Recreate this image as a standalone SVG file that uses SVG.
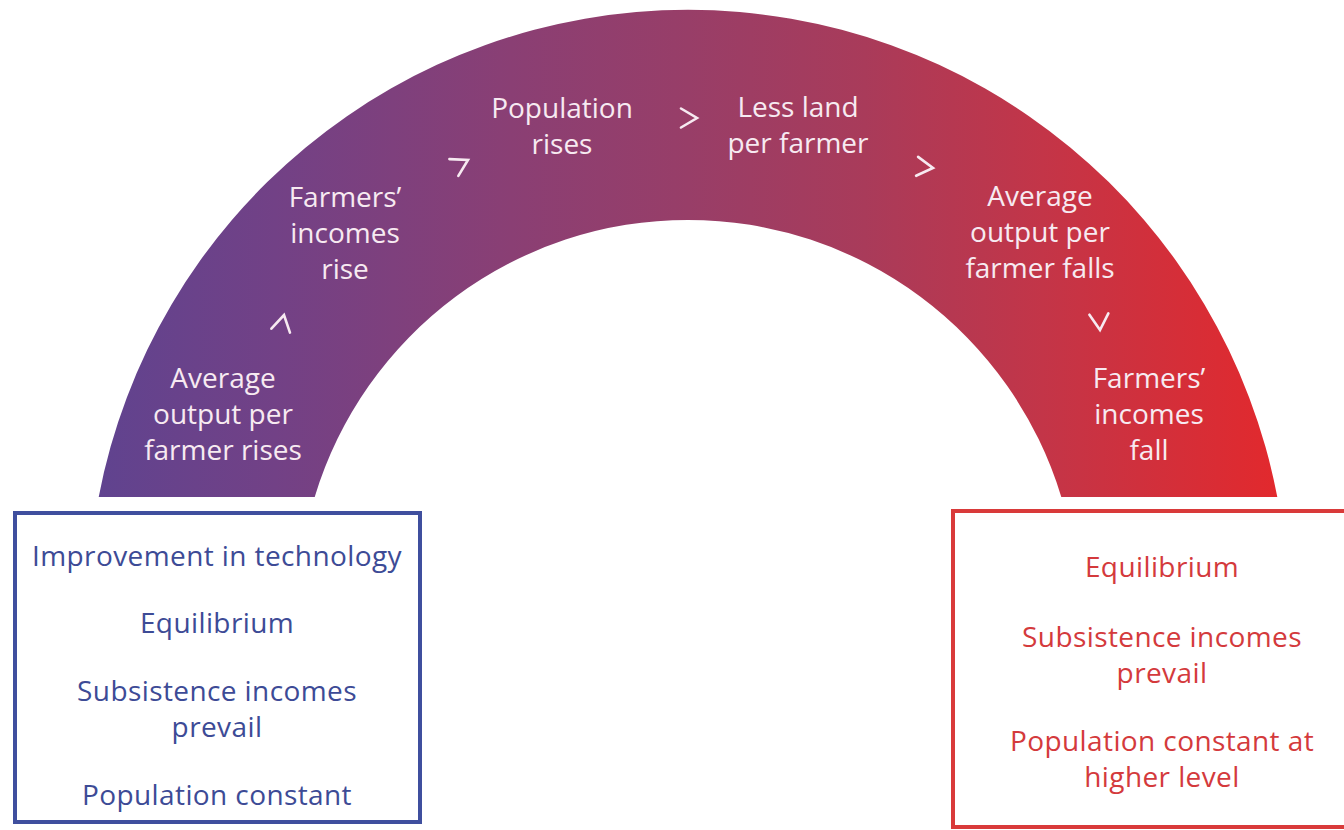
<svg xmlns="http://www.w3.org/2000/svg" width="1344" height="830" viewBox="0 0 1344 830">
  <defs>
    <linearGradient id="archGrad" gradientUnits="userSpaceOnUse" x1="98" y1="460" x2="1278" y2="460">
      <stop offset="0" stop-color="#60438f"/>
      <stop offset="0.15" stop-color="#724186"/>
      <stop offset="0.35" stop-color="#8a3f74"/>
      <stop offset="0.5" stop-color="#983e68"/>
      <stop offset="0.65" stop-color="#a93b5a"/>
      <stop offset="0.8" stop-color="#c33548"/>
      <stop offset="1" stop-color="#e2292d"/>
    </linearGradient>
    <path id="chev" d="M -16,-9.5 L 0,0 L -16,9.5"/>
  </defs>
  <style>
    .arch-text { font-family: "Open Sans", "Noto Sans", "Liberation Sans", sans-serif; font-size: 28px; fill: #f7eaf1; text-anchor: middle; }
    .blue-text { font-family: "Open Sans", "Noto Sans", "Liberation Sans", sans-serif; font-size: 28px; letter-spacing: 0.4px; fill: #3d4b96; text-anchor: middle; }
    .red-text { font-family: "Open Sans", "Noto Sans", "Liberation Sans", sans-serif; font-size: 28px; letter-spacing: 0.4px; fill: #d43a3c; text-anchor: middle; }
    .chevron { fill: none; stroke: #f7eaf1; stroke-width: 2.6; stroke-linecap: round; stroke-linejoin: miter; }
  </style>
  <rect width="1344" height="830" fill="#ffffff"/>

  <g id="arch">
    <path d="M 98.7,497 A 600 600 0 0 1 1277.3,497 L 1061.3,497 A 390 390 0 0 0 314.7,497 Z" fill="url(#archGrad)"/>
  </g>

  <g id="node-output-rises">
    <text class="arch-text" x="223" y="388">Average</text>
    <text class="arch-text" x="223" y="424">output per</text>
    <text class="arch-text" x="223" y="460">farmer rises</text>
  </g>
  <g id="node-incomes-rise">
    <text class="arch-text" x="345" y="207">Farmers’</text>
    <text class="arch-text" x="345" y="243">incomes</text>
    <text class="arch-text" x="345" y="279">rise</text>
  </g>
  <g id="node-population-rises">
    <text class="arch-text" x="562" y="118">Population</text>
    <text class="arch-text" x="562" y="154">rises</text>
  </g>
  <g id="node-less-land">
    <text class="arch-text" x="798" y="117">Less land</text>
    <text class="arch-text" x="798" y="153">per farmer</text>
  </g>
  <g id="node-output-falls">
    <text class="arch-text" x="1040" y="206">Average</text>
    <text class="arch-text" x="1040" y="242">output per</text>
    <text class="arch-text" x="1040" y="278">farmer falls</text>
  </g>
  <g id="node-incomes-fall">
    <text class="arch-text" x="1149" y="388">Farmers’</text>
    <text class="arch-text" x="1149" y="424">incomes</text>
    <text class="arch-text" x="1149" y="460">fall</text>
  </g>

  <g id="connectors">
    <use href="#chev" class="chevron" transform="translate(284,315) rotate(-78)"/>
    <use href="#chev" class="chevron" transform="translate(468,160) rotate(-28)"/>
    <use href="#chev" class="chevron" transform="translate(697,118)"/>
    <use href="#chev" class="chevron" transform="translate(933,168) rotate(6)"/>
    <use href="#chev" class="chevron" transform="translate(1100,330) rotate(86)"/>
  </g>

  <g id="node-start-box">
    <rect x="15" y="513" width="405" height="309" fill="none" stroke="#3f4f9e" stroke-width="4"/>
    <text class="blue-text" x="217" y="566">Improvement in technology</text>
    <text class="blue-text" x="217" y="633">Equilibrium</text>
    <text class="blue-text" x="217" y="701">Subsistence incomes</text>
    <text class="blue-text" x="217" y="737">prevail</text>
    <text class="blue-text" x="217" y="805">Population constant</text>
  </g>

  <g id="node-end-box">
    <rect x="953" y="511" width="400" height="316" fill="none" stroke="#d93a3a" stroke-width="4"/>
    <text class="red-text" x="1162" y="577">Equilibrium</text>
    <text class="red-text" x="1162" y="647">Subsistence incomes</text>
    <text class="red-text" x="1162" y="683">prevail</text>
    <text class="red-text" x="1162" y="751">Population constant at</text>
    <text class="red-text" x="1162" y="787">higher level</text>
  </g>
</svg>
